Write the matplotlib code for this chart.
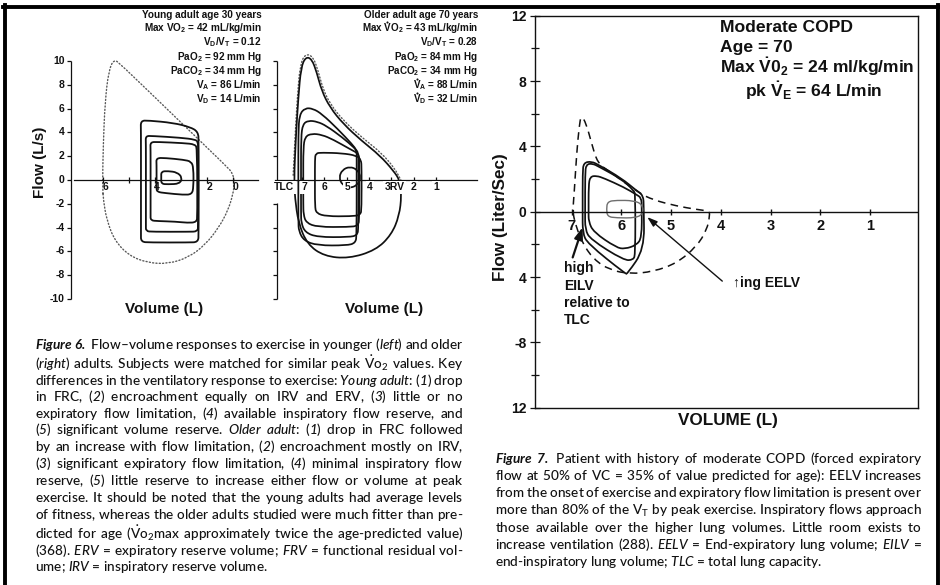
import numpy as np
import matplotlib
matplotlib.use('Agg')
import matplotlib.pyplot as plt
from matplotlib.path import Path
from matplotlib.patches import PathPatch
from matplotlib.lines import Line2D
from matplotlib import font_manager as fm

# ============================ DATA ============================
# Figure 6 (left) - young adult: flow-volume loops (volume L, flow L/s), control polygons
young_env_vol = [6.02, 5.99, 5.92, 5.78, 5.58, 5.33, 3.2, 1.25, 1.0, 0.95, 1.0, 1.2, 1.55,
                 2.05, 2.7, 3.5, 4.3, 5.0, 5.55, 5.85, 5.98]
young_env_flow = [-0.5, 3.0, 6.6, 9.2, 10.15, 9.75, 5.25, 1.15, 0.55, -0.3, -1.2, -2.6, -4.0,
                  -5.4, -6.5, -7.05, -6.95, -6.35, -5.1, -3.4, -1.8]
young_loops_vol = [
    [4.54, 4.54, 4.55, 4.25, 3.3, 2.65, 2.34, 2.32, 2.32, 2.34, 2.7, 4.2, 4.54, 4.54],
    [4.35, 4.35, 4.36, 4.1, 3.0, 2.45, 2.35, 2.34, 2.34, 2.36, 2.7, 4.1, 4.35, 4.35],
    [4.17, 4.17, 4.18, 3.9, 2.9, 2.45, 2.38, 2.37, 2.4, 2.75, 3.2, 3.9, 4.17, 4.17],
    [3.94, 3.94, 3.95, 3.6, 2.9, 2.6, 2.52, 2.52, 2.58, 2.9, 3.6, 3.93, 3.94],
    [3.76, 3.76, 3.5, 3.15, 2.95, 3.05, 3.5, 3.76],
]
young_loops_flow = [
    [0.0, 4.2, 4.98, 5.0, 4.8, 4.45, 4.05, 3.2, -4.5, -5.22, -5.25, -5.25, -5.2, -4.5],
    [0.0, 3.1, 3.7, 3.7, 3.55, 3.4, 3.2, 2.6, -3.8, -4.33, -4.35, -4.35, -4.3, -3.8],
    [0.0, 2.6, 3.18, 3.2, 3.1, 3.0, 2.6, -3.0, -3.55, -3.6, -3.5, -3.45, -3.4, -2.9],
    [0.0, 1.3, 1.85, 1.85, 1.7, 1.55, 1.0, -0.6, -1.2, -1.25, -1.1, -1.0, -0.6],
    [0.2, 0.72, 0.75, 0.65, 0.2, -0.32, -0.36, -0.33],
]
young_yticks = [10, 8, 6, 4, 2, 0, -2, -4, -6, -8, -10]
young_ytick_labels = ['10', '8', '6', '4', '2', '0', '-2', '-4', '-6', '-8', '-10']
young_xticks = [6, 5, 4, 2, 1]
young_xtick_labels = ['6', '', '4', '2', '0']
young_info = ['Young adult age 30 years',
              r'Max $\mathbf{VO_2}$ = 42 mL/kg/min',
              r'$\mathbf{V_D/V_T}$ = 0.12',
              r'Pa$\mathbf{O_2}$ = 92 mm Hg',
              r'Pa$\mathbf{CO_2}$ = 34 mm Hg',
              r'$\mathbf{V_A}$ = 86 L/min',
              r'$\mathbf{V_D}$ = 14 L/min']

# Figure 6 (right) - older adult
older_max_vol = [7.34, 7.27, 7.15, 7.03, 6.82, 6.55, 6.33, 6.11, 5.74, 5.14, 4.33, 3.51, 2.91,
                 2.62, 2.55, 2.65, 3.0, 3.7, 4.9, 6.0, 6.75, 7.15, 7.3]
older_max_flow = [0.0, 3.3, 6.95, 9.47, 10.35, 10.17, 9.05, 7.5, 6.1, 4.7, 3.3, 2.05, 0.78,
                  -0.05, -1.3, -3.0, -4.6, -5.9, -6.6, -6.4, -5.4, -3.6, -1.5]
older_env_vol = [7.38, 7.3, 7.19, 7.07, 6.84, 6.5, 6.27, 6.06, 5.72, 5.12, 4.3, 3.46, 2.86, 2.58]
older_env_flow = [0.4, 3.5, 7.1, 9.7, 10.6, 10.4, 9.2, 7.7, 6.35, 4.95, 3.55, 2.3, 1.0, 0.0]
older_loops_vol = [
    [7.15, 7.15, 7.1, 6.85, 6.5, 6.1, 5.4, 4.75, 4.55, 4.55, 4.55, 4.6, 5.0, 6.3, 6.9, 7.13, 7.15],
    [7.03, 7.03, 6.95, 6.7, 6.3, 5.9, 5.2, 4.65, 4.47, 4.47, 4.47, 4.52, 4.9, 6.3, 6.85, 7.02, 7.03],
    [6.93, 6.93, 6.85, 6.55, 6.1, 5.6, 4.85, 4.45, 4.43, 4.43, 4.48, 4.9, 6.3, 6.8, 6.92, 6.93],
    [6.41, 6.41, 6.38, 6.1, 5.2, 4.55, 4.35, 4.33, 4.33, 4.38, 4.8, 5.9, 6.35, 6.41],
    [5.34, 5.19, 4.85, 4.51, 4.36, 4.51, 4.85, 5.19],
]
older_loops_flow = [
    [0.0, 4.0, 5.5, 6.05, 6.0, 5.55, 4.3, 3.0, 2.5, 1.8, -4.6, -5.3, -5.5, -5.5, -5.1, -4.3, -3.5],
    [0.0, 3.6, 4.7, 5.0, 4.9, 4.55, 3.6, 2.7, 2.3, 1.6, -4.0, -4.65, -4.8, -4.8, -4.4, -3.6, -2.8],
    [0.0, 2.7, 3.65, 3.9, 3.8, 3.4, 2.6, 2.2, 1.5, -3.2, -3.85, -3.95, -3.95, -3.6, -2.9, -2.0],
    [0.0, 1.7, 2.25, 2.3, 2.25, 2.05, 1.7, 1.0, -2.4, -2.95, -3.05, -3.05, -2.8, -2.2],
    [0.22, 0.86, 1.13, 0.86, 0.22, -0.42, -0.69, -0.42],
]
older_yticks = [10, 8, 6, 4, 2, -2, -4, -6, -8, -10]
older_xticks = [7, 6, 5, 4, 3, 2, 1]
older_xlabels = ['TLC', '7', '6', '5', '4', '3RV', '2', '1']
older_xlabel_vol = [7.77, 6.9, 6.0, 4.97, 3.97, 2.86, 2.0, 1.02]
older_info = ['Older adult age 70 years',
              r'Max $\mathbf{VO_2}$ = 43 mL/kg/min',
              r'$\mathbf{V_D/V_T}$ = 0.28',
              r'Pa$\mathbf{O_2}$ = 84 mm Hg',
              r'Pa$\mathbf{CO_2}$ = 34 mm Hg',
              r'$\mathbf{V_A}$ = 88 L/min',
              r'$\mathbf{V_D}$ = 32 L/min']
# lines whose "V" carries a rate dot (line index -> text before that V)
older_info_dots = {1: 'Max ', 5: '', 6: ''}

# Figure 7 - moderate COPD
copd_env_vol = [6.98, 6.95, 6.9, 6.85, 6.81, 6.71, 6.6, 6.48, 6.23, 5.66, 5.36, 4.89, 4.49, 4.24,
                4.22, 4.28, 4.49, 4.89, 5.36, 5.83, 6.23, 6.56, 6.8, 6.93]
copd_env_flow = [0.0, 1.13, 3.57, 5.2, 5.92, 5.41, 4.19, 2.96, 2.45, 1.17, 0.72, 0.35, 0.14, 0.04,
                 -0.2, -1.12, -2.14, -3.16, -3.67, -3.81, -3.57, -2.92, -1.84, -0.71]
copd_loops_vol = [
    [6.78, 6.78, 6.76, 6.6, 6.45, 6.0, 5.7, 5.56, 5.55, 5.54, 5.88, 5.92, 6.68, 6.78],
    [6.73, 6.73, 6.71, 6.58, 6.45, 6.0, 5.75, 5.72, 5.72, 5.76, 5.95, 6.62, 6.73],
    [6.66, 6.66, 6.63, 6.5, 6.35, 5.95, 5.7, 5.6, 5.59, 5.59, 5.7, 5.93, 6.1, 6.56, 6.66],
]
copd_loops_flow = [
    [0.0, 2.4, 3.0, 3.08, 2.85, 2.05, 1.3, 1.0, 0.3, -2.3, -3.8, -3.8, -1.95, -1.3],
    [0.0, 2.3, 2.9, 2.95, 2.75, 2.0, 1.3, 1.05, -2.6, -2.95, -2.98, -1.7, -1.1],
    [0.0, 1.6, 2.15, 2.2, 2.05, 1.5, 1.05, 0.85, 0.3, -1.6, -2.05, -2.28, -2.2, -1.25, -0.6],
]
copd_rest_vol = [6.3, 6.28, 6.1, 5.75, 5.58, 5.56, 5.7, 6.1, 6.28]
copd_rest_flow = [0.15, 0.62, 0.7, 0.68, 0.45, -0.1, -0.38, -0.38, -0.3]
copd_yticks = [12, 8, 4, 0, -4, -8, -12]
copd_ytick_labels = ['12', '8', '4', '0', '4', '-8', '12']
copd_yticks_minor = [10, 6, 2, -2, -6, -10]
copd_xticks = [7, 6, 5, 4, 3, 2, 1]
copd_xtick_labels = ['7', '6', '5', '4', '3', '2', '1']
copd_info = ['Moderate COPD', 'Age = 70',
             r'Max $\mathbf{\dot{V}0_2}$ = 24 ml/kg/min',
             r'pk $\mathbf{\dot{V}_E}$ = 64 L/min']
eilv_arrow = {'head': (6.78, -0.95), 'tail': (6.98, -2.8)}
eelv_arrow = {'head': (5.48, -0.33), 'tail': (3.97, -4.25)}

# captions: _x_ italic, ^x^ bold italic, ~x~ small, @ = V-dot-O2
fig6_caption = [
    "^Figure^ ^6.^ Flow\u2013volume responses to exercise in younger (_left_) and older",
    "(_right_) adults. Subjects were matched for similar peak @ values. Key",
    "differences in the ventilatory response to exercise: _Young_ _adult_: (_1_) drop",
    "in FRC, (_2_) encroachment equally on IRV and ERV, (_3_) little or no",
    "expiratory flow limitation, (_4_) available inspiratory flow reserve, and",
    "(_5_) significant volume reserve. _Older_ _adult_: (_1_) drop in FRC followed",
    "by an increase with flow limitation, (_2_) encroachment mostly on IRV,",
    "(_3_) significant expiratory flow limitation, (_4_) minimal inspiratory flow",
    "reserve, (_5_) little reserve to increase either flow or volume at peak",
    "exercise. It should be noted that the young adults had average levels",
    "of fitness, whereas the older adults studied were much fitter than pre-",
    "dicted for age (@max approximately twice the age-predicted value)",
    "(368). _ERV_ = expiratory reserve volume; _FRV_ = functional residual vol-",
    "ume; _IRV_ = inspiratory reserve volume.",
]
fig7_caption = [
    "^Figure^ ^7.^ Patient with history of moderate COPD (forced expiratory",
    "flow at 50% of VC = 35% of value predicted for age): EELV increases",
    "from the onset of exercise and expiratory flow limitation is present over",
    "more than 80% of the V~T~ by peak exercise. Inspiratory flows approach",
    "those available over the higher lung volumes. Little room exists to",
    "increase ventilation (288). _EELV_ = End-expiratory lung volume; _EILV_ =",
    "end-inspiratory lung volume; _TLC_ = total lung capacity.",
]

# ============================ STYLE / LAYOUT ============================
W, H = 940, 585
INK = '#111111'
GREY = '#5a5a5a'
CHART_FONT = ['Liberation Sans', 'DejaVu Sans']
_names = {f.name for f in fm.fontManager.ttflist}
CAP_FONT = next((n for n in ['Lato', 'Open Sans', 'Noto Sans'] if n in _names), 'DejaVu Sans')
CAP_COLOR = '#111111'
CAP_WEIGHT = 'medium'
HAS_BFIT = 'mathtext.bfit' in plt.rcParams
BFIT = r'\mathbfit' if HAS_BFIT else r'\mathbf'

plt.rcParams['font.family'] = CHART_FONT
plt.rcParams['mathtext.fontset'] = 'custom'
plt.rcParams['mathtext.rm'] = CAP_FONT + ':medium'
plt.rcParams['mathtext.it'] = CAP_FONT + ':italic:medium'
plt.rcParams['mathtext.sf'] = CAP_FONT + ':italic:medium'
plt.rcParams['mathtext.bf'] = 'Liberation Sans:bold'
if HAS_BFIT:
    plt.rcParams['mathtext.bfit'] = CAP_FONT + ':italic:bold'

fig = plt.figure(figsize=(W / 100, H / 100), dpi=100)
fig.patch.set_facecolor('white')
RENDERER = fig.canvas.get_renderer()


def fx(x):
    return x / W


def fy(y):
    return 1 - y / H


def ftext(x, y, s, **kw):
    return fig.text(fx(x), fy(y), s, **kw)


def px_axes(box, xmap, ymap):
    l, t, r, b = box
    ax = fig.add_axes([l / W, 1 - b / H, (r - l) / W, (b - t) / H])
    px0, v0, sx = xmap
    py0, f0, sy = ymap
    ax.set_xlim(v0 + (l - px0) / sx, v0 + (r - px0) / sx)
    ax.set_ylim(f0 - (b - py0) / sy, f0 - (t - py0) / sy)
    ax.patch.set_alpha(0)
    return ax


def spline_patch(ax, xs, ys, closed=True, **kw):
    P = np.column_stack([xs, ys]).astype(float)
    if closed:
        M = (P + np.roll(P, -1, axis=0)) / 2
        verts, codes = [M[-1]], [Path.MOVETO]
        for i in range(len(P)):
            verts += [P[i], M[i]]
            codes += [Path.CURVE3, Path.CURVE3]
    else:
        M = (P[:-1] + P[1:]) / 2
        verts, codes = [P[0], M[0]], [Path.MOVETO, Path.LINETO]
        for i in range(1, len(P) - 1):
            verts += [P[i], M[i]]
            codes += [Path.CURVE3, Path.CURVE3]
        verts.append(P[-1])
        codes.append(Path.LINETO)
    patch = PathPatch(Path(verts, codes), facecolor='none', **kw)
    ax.add_patch(patch)
    return patch


def left_axis(ax, xpos, segs, ticks, labels=None, size=7.5):
    for a, b in segs:
        ax.plot([xpos, xpos], [a, b], color=INK, lw=0.9, solid_capstyle='butt')
    ax.plot([xpos] * len(ticks), ticks, ls='none', marker=0, ms=3.2, mew=0.9, color=INK)
    if labels:
        for v, lab in zip(ticks, labels):
            ax.annotate(lab, (xpos, v), xytext=(-4.5, 0), textcoords='offset points',
                        ha='right', va='center', fontsize=size, fontweight='bold', color=INK)


def push_apart(texts, gap=0.4):
    """Shift a text down just enough so that its box clears the one above it."""
    for prev, cur in zip(texts[:-1], texts[1:]):
        bp = prev.get_window_extent(RENDERER)
        bc = cur.get_window_extent(RENDERER)
        ov = bc.y1 - bp.y0 + gap
        if ov > 0 and bc.x0 < bp.x1 and bc.x1 > bp.x0:
            x, y = cur.get_position()
            cur.set_position((x, y - ov / H))


def text_width(s, **kw):
    t = fig.text(0, 0, s, **kw)
    w = t.get_window_extent(RENDERER).width
    t.remove()
    return w


# ---------------- Figure 6 left: young adult ----------------
ax1 = px_axes((40, 40, 272, 312), (103, 6, -26), (180, 0, 11.9))
ax1.axis('off')
left_axis(ax1, 7.23, [(-10, 10)], young_yticks, young_ytick_labels)
ax1.plot([7.115, 0.04], [0, 0], color=INK, lw=0.9)
ax1.plot(young_xticks, [0] * len(young_xticks), ls='none', marker='|', ms=4, mew=0.9, color=INK)
for v, lab in zip(young_xticks, young_xtick_labels):
    if lab:
        ax1.annotate(lab, (v, 0), xytext=(1.5, -5.3), textcoords='offset points', ha='center',
                     va='center', fontsize=7.5, fontweight='bold', color=INK)
spline_patch(ax1, young_env_vol, young_env_flow, edgecolor=GREY, lw=1.0,
             linestyle=(0, (0.8, 1.6)), capstyle='round')
for vv, ff in zip(young_loops_vol, young_loops_flow):
    spline_patch(ax1, vv, ff, edgecolor=INK, lw=1.3)

INFO_Y = [18.5, 31, 44.5, 57.5, 70.5, 83.5, 96.5]
young_texts = [ftext(262, y, s, ha='right', va='baseline', fontsize=7.2, fontweight='bold',
                     color=INK) for s, y in zip(young_info, INFO_Y)]
ftext(40, 162, 'Flow (L/s)', rotation=90, ha='center', va='center', fontsize=11,
      fontweight='bold', color=INK)
ftext(164, 309, 'Volume (L)', ha='center', va='center', fontsize=11, fontweight='bold', color=INK)

# ---------------- Figure 6 right: older adult ----------------
ax2 = px_axes((262, 40, 490, 312), (301.7, 7, -22.43), (180, 0, 11.9))
ax2.axis('off')
left_axis(ax2, 8.10, [(0, 10), (-10, -1.9)], older_yticks)
ax2.plot([8.19, -0.82], [0, 0], color=INK, lw=0.9)
ax2.plot(older_xticks, [0] * len(older_xticks), ls='none', marker='|', ms=4, mew=0.9, color=INK)
spline_patch(ax2, older_env_vol, older_env_flow, closed=False, edgecolor=GREY, lw=1.0,
             linestyle=(0, (0.8, 1.6)), capstyle='round')
spline_patch(ax2, older_max_vol, older_max_flow, edgecolor=INK, lw=1.25)
for vv, ff in zip(older_loops_vol, older_loops_flow):
    spline_patch(ax2, vv, ff, edgecolor=INK, lw=1.25)
for v, lab in zip(older_xlabel_vol, older_xlabels):
    ax2.annotate(lab, (v, 0), xytext=(0, -5.3), textcoords='offset points', ha='center',
                 va='center', fontsize=7.5, fontweight='bold', color=INK, zorder=6,
                 bbox=dict(boxstyle='square,pad=0.12', fc='white', ec='none'))
OLDER_SIZE = 7.1
older_texts = [ftext(478, y, s, ha='right', va='baseline', fontsize=OLDER_SIZE, fontweight='bold',
                     color=INK) for s, y in zip(older_info, INFO_Y)]
ftext(384, 309, 'Volume (L)', ha='center', va='center', fontsize=11, fontweight='bold', color=INK)

# ---------------- Figure 7: COPD ----------------
ax3 = px_axes((535, 15.7, 918, 407.7), (571.7, 7, -49.7), (211.7, 0, 16.33))
ax3.set_ylim(-12, 12)
for sp in ax3.spines.values():
    sp.set_linewidth(1.0)
    sp.set_color(INK)
ax3.set_xticks([])
ax3.set_yticks(copd_yticks)
ax3.set_yticklabels(copd_ytick_labels, fontweight='bold')
ax3.set_yticks(copd_yticks_minor, minor=True)
ax3.tick_params(axis='y', which='major', direction='inout', length=7, width=0.9,
                labelsize=10, pad=2.5, colors=INK)
ax3.tick_params(axis='y', which='minor', direction='inout', length=6, width=0.9, colors=INK)
ax3.axhline(0, color=INK, lw=1.0)
ax3.plot(copd_xticks, [0] * len(copd_xticks), ls='none', marker='|', ms=5, mew=1.0, color=INK)
for v, lab in zip(copd_xticks, copd_xtick_labels):
    ax3.annotate(lab, (v, 0), xytext=(0, -10.3), textcoords='offset points', ha='center',
                 va='center', fontsize=10.5, fontweight='bold', color=INK)
spline_patch(ax3, copd_env_vol, copd_env_flow, edgecolor=INK, lw=1.1, linestyle=(0, (5, 3.5)))
for vv, ff in zip(copd_loops_vol, copd_loops_flow):
    spline_patch(ax3, vv, ff, edgecolor=INK, lw=1.25)
spline_patch(ax3, copd_rest_vol, copd_rest_flow, edgecolor='#6e6e6e', lw=1.0)
ax3.annotate('', xy=eilv_arrow['head'], xytext=eilv_arrow['tail'],
             arrowprops=dict(arrowstyle='-|>,head_length=0.7,head_width=0.25', color=INK,
                             lw=1.6, shrinkA=0, shrinkB=0))
ax3.annotate('', xy=eelv_arrow['head'], xytext=eelv_arrow['tail'],
             arrowprops=dict(arrowstyle='-|>,head_length=0.6,head_width=0.2', color=INK,
                             lw=1.0, shrinkA=0, shrinkB=0))
for s, y in zip(['high', 'EILV', 'relative to', 'TLC'], [268, 285.7, 303, 320]):
    ftext(564, y, s, ha='left', va='center', fontsize=10, fontweight='bold', color=INK)
ftext(733, 283.3, '\u2191ing EELV', ha='left', va='center', fontsize=10, fontweight='bold',
      color=INK)
COPD_INFO_POS = [(720, 31.5), (720, 52.2), (720, 72.3), (745, 94.5)]
copd_texts = [ftext(x, y, s, ha='left', va='baseline', fontsize=12.6, fontweight='bold',
                    color=INK) for s, (x, y) in zip(copd_info, COPD_INFO_POS)]
ftext(501, 217, 'Flow (Liter/Sec)', rotation=90, ha='center', va='center', fontsize=12.3,
      fontweight='bold', color=INK)
ftext(728, 421, 'VOLUME (L)', ha='center', va='center', fontsize=12.3, fontweight='bold',
      color=INK)

# ---------------- page frame ----------------
fig.add_artist(Line2D([fx(3), fx(940)], [fy(6.5), fy(6.5)], color='black', lw=2.8))
fig.add_artist(Line2D([fx(5), fx(5)], [fy(5), fy(585)], color='black', lw=2.8))
fig.add_artist(Line2D([fx(938), fx(938)], [fy(5), fy(585)], color='black', lw=2.8))

# ---------------- captions (justified, one text per line) ----------------
VO2_MATH = r'$\dot{\mathrm{V}}\mathrm{o}_{\mathrm{2}}$'


def parse_line(line):
    words = []
    for w in line.split(' '):
        segs, cur, st, small = [], '', 'n', False
        for ch in w:
            if ch in '_^~':
                if cur:
                    segs.append((cur, st, small))
                    cur = ''
                if ch == '_':
                    st = 'n' if st == 'i' else 'i'
                elif ch == '^':
                    st = 'n' if st == 'b' else 'b'
                else:
                    small = not small
            else:
                cur += ch
        if cur:
            segs.append((cur, st, small))
        words.append(segs)
    return words


def word_string(segs):
    out = ''
    for s, st, small in segs:
        if small:
            out += r'$_{\mathrm{%s}}$' % s
        elif st == 'i':
            out += r'$\mathsf{%s}$' % s
        elif st == 'b':
            out += r'$%s{%s}$' % (BFIT, s)
        else:
            out += s.replace('@', VO2_MATH)
    return out


def draw_captions(paragraphs, base=10.0, min_space=0.75):
    kw = dict(family=CAP_FONT, weight=CAP_WEIGHT)

    def width(s, size):
        return text_width(s, fontsize=size, **kw)

    words_all = [[[word_string(sg) for sg in parse_line(l)] for l in lines]
                 for lines, *_ in paragraphs]
    sw = width('n n', base) - width('nn', base)
    factor = 10.0
    for (lines, x0, x1, yb0, dy), plines in zip(paragraphs, words_all):
        for words in plines[:-1]:
            nat = sum(width(w, base) for w in words) + min_space * sw * (len(words) - 1)
            factor = min(factor, (x1 - x0) / nat)
    size = base * factor
    em = (width(r'n$\hspace{10}$n', size) - width('nn', size)) / 10.0
    groups = []
    for (lines, x0, x1, yb0, dy), plines in zip(paragraphs, words_all):
        texts = []
        for li, words in enumerate(plines):
            y = float(round(yb0 + li * dy))
            if li == len(plines) - 1:
                texts.append(fig.text(fx(x0), fy(y), ' '.join(words), fontsize=size,
                                      color=CAP_COLOR, ha='left', va='baseline', **kw))
                continue
            ws = sum(width(w, size) for w in words)
            gap = (x1 - x0 - ws) / (len(words) - 1)
            t = fig.text(fx(x0), fy(y), '', fontsize=size, color=CAP_COLOR, ha='left',
                         va='baseline', **kw)
            for _ in range(2):
                t.set_text((r'$\hspace{%.4f}$' % (gap / em)).join(words))
                tw = t.get_window_extent(RENDERER).width
                gap += (x1 - x0 - tw) / (len(words) - 1)
            texts.append(t)
        groups.append(texts)
    return groups


caption_groups = draw_captions([(fig6_caption, 35, 463.3, 348.7, 17.05),
                                (fig7_caption, 495, 922, 463.0, 17.17)])

for group in [young_texts, older_texts, copd_texts] + caption_groups:
    push_apart(group)

# rate dots over the "V" of the older-adult annotation lines
okw = dict(fontsize=OLDER_SIZE, fontweight='bold')
v_w = text_width('V', **okw)
cap_h = 0.716 * OLDER_SIZE * 100 / 72
for idx, prefix in older_info_dots.items():
    t = older_texts[idx]
    bb = t.get_window_extent(RENDERER)
    off = (text_width(prefix + 'V', **okw) - v_w) if prefix else 0.0
    base_y = (1 - t.get_position()[1]) * H
    fig.add_artist(Line2D([fx(bb.x0 + off + v_w / 2)], [fy(base_y - cap_h - 2.2)], marker='o',
                          ms=1.5, mew=0, color=INK, ls='none'))

fig.savefig('out.png', dpi=100, facecolor='white')
